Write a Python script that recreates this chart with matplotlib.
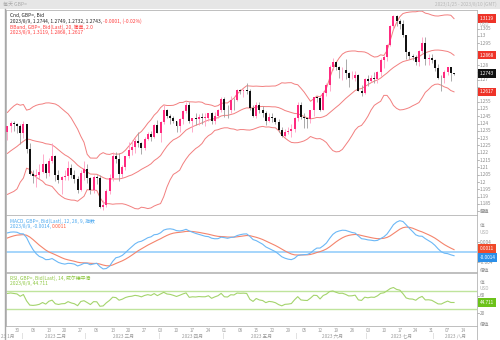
import numpy as np
import pandas as pd
import matplotlib
matplotlib.use("Agg")
import matplotlib.pyplot as plt
import matplotlib.transforms as mtransforms
from matplotlib.patches import Rectangle
from matplotlib.lines import Line2D

plt.rcParams['font.family'] = ['Noto Sans CJK SC', 'DejaVu Sans']

# GBP= daily bid candles, 2023-01-25 .. 2023-08-09
dates = pd.bdate_range("2023-01-25", "2023-08-09")

open_ = [1.2340, 1.2385, 1.2405, 1.2395, 1.2385, 1.2335, 1.2395, 1.2225, 1.2055, 1.2040,
         1.2050, 1.2070, 1.2120, 1.2060, 1.2145, 1.2180, 1.2045, 1.2015, 1.2035, 1.2040,
         1.2095, 1.2050, 1.2020, 1.1945, 1.2065, 1.2090, 1.2025, 1.1945, 1.2035, 1.2030,
         1.1830, 1.1840, 1.1940, 1.2030, 1.2175, 1.2160, 1.2055, 1.2100, 1.2175, 1.2220,
         1.2240, 1.2280, 1.2265, 1.2235, 1.2295, 1.2330, 1.2310, 1.2390, 1.2335, 1.2410,
         1.2495, 1.2450, 1.2440, 1.2415, 1.2385, 1.2430, 1.2485, 1.2530, 1.2415, 1.2435,
         1.2430, 1.2445, 1.2440, 1.2440, 1.2470, 1.2415, 1.2455, 1.2490, 1.2570, 1.2495,
         1.2490, 1.2565, 1.2560, 1.2630, 1.2625, 1.2630, 1.2625, 1.2505, 1.2450, 1.2530,
         1.2490, 1.2475, 1.2415, 1.2445, 1.2435, 1.2410, 1.2355, 1.2315, 1.2345, 1.2350,
         1.2360, 1.2440, 1.2525, 1.2445, 1.2435, 1.2430, 1.2490, 1.2580, 1.2575, 1.2495,
         1.2610, 1.2665, 1.2790, 1.2820, 1.2790, 1.2765, 1.2770, 1.2745, 1.2710, 1.2715,
         1.2735, 1.2625, 1.2610, 1.2705, 1.2690, 1.2710, 1.2705, 1.2750, 1.2835, 1.2855,
         1.2940, 1.3065, 1.3140, 1.3100, 1.3085, 1.3005, 1.2890, 1.2860, 1.2855, 1.2820,
         1.2900, 1.2950, 1.2845, 1.2850, 1.2835, 1.2780, 1.2715, 1.2710, 1.2750, 1.2785,
         1.2744]
high = [1.2385, 1.2420, 1.2418, 1.2405, 1.2395, 1.2420, 1.2400, 1.2270, 1.2080, 1.2090,
        1.2125, 1.2190, 1.2130, 1.2165, 1.2270, 1.2185, 1.2085, 1.2040, 1.2080, 1.2145,
        1.2125, 1.2080, 1.2040, 1.2080, 1.2145, 1.2120, 1.2035, 1.2045, 1.2045, 1.2045,
        1.1875, 1.1950, 1.2055, 1.2205, 1.2205, 1.2200, 1.2115, 1.2180, 1.2275, 1.2290,
        1.2300, 1.2345, 1.2275, 1.2310, 1.2345, 1.2350, 1.2400, 1.2425, 1.2420, 1.2525,
        1.2500, 1.2465, 1.2450, 1.2420, 1.2440, 1.2490, 1.2545, 1.2545, 1.2440, 1.2475,
        1.2465, 1.2475, 1.2475, 1.2475, 1.2480, 1.2480, 1.2500, 1.2585, 1.2580, 1.2525,
        1.2590, 1.2575, 1.2635, 1.2640, 1.2635, 1.2680, 1.2640, 1.2525, 1.2545, 1.2545,
        1.2520, 1.2485, 1.2470, 1.2470, 1.2445, 1.2430, 1.2375, 1.2365, 1.2380, 1.2395,
        1.2445, 1.2545, 1.2545, 1.2470, 1.2445, 1.2495, 1.2585, 1.2590, 1.2580, 1.2625,
        1.2680, 1.2800, 1.2850, 1.2825, 1.2795, 1.2790, 1.2840, 1.2750, 1.2760, 1.2760,
        1.2740, 1.2665, 1.2715, 1.2735, 1.2730, 1.2750, 1.2760, 1.2850, 1.2870, 1.2945,
        1.3075, 1.3145, 1.3145, 1.3115, 1.3110, 1.3010, 1.2900, 1.2880, 1.2870, 1.2905,
        1.2995, 1.2995, 1.2880, 1.2875, 1.2840, 1.2805, 1.2735, 1.2770, 1.2790, 1.2790,
        1.2749]
low = [1.2290, 1.2340, 1.2350, 1.2335, 1.2260, 1.2300, 1.2200, 1.2045, 1.1990, 1.1965,
       1.2020, 1.2060, 1.2030, 1.2040, 1.2130, 1.2010, 1.1990, 1.1915, 1.2015, 1.2015,
       1.2025, 1.1990, 1.1925, 1.1940, 1.2015, 1.1990, 1.1920, 1.1925, 1.1985, 1.1820,
       1.1805, 1.1830, 1.1915, 1.2010, 1.2130, 1.2010, 1.2030, 1.2080, 1.2165, 1.2185,
       1.2200, 1.2240, 1.2190, 1.2220, 1.2285, 1.2280, 1.2300, 1.2335, 1.2275, 1.2395,
       1.2435, 1.2400, 1.2405, 1.2345, 1.2345, 1.2400, 1.2475, 1.2405, 1.2345, 1.2390,
       1.2390, 1.2400, 1.2385, 1.2420, 1.2395, 1.2400, 1.2435, 1.2480, 1.2445, 1.2440,
       1.2470, 1.2490, 1.2555, 1.2600, 1.2585, 1.2600, 1.2495, 1.2445, 1.2440, 1.2470,
       1.2445, 1.2390, 1.2410, 1.2410, 1.2395, 1.2345, 1.2310, 1.2310, 1.2330, 1.2310,
       1.2345, 1.2420, 1.2430, 1.2370, 1.2370, 1.2405, 1.2450, 1.2545, 1.2485, 1.2490,
       1.2590, 1.2620, 1.2765, 1.2765, 1.2710, 1.2700, 1.2705, 1.2650, 1.2705, 1.2690,
       1.2620, 1.2590, 1.2605, 1.2660, 1.2685, 1.2675, 1.2680, 1.2725, 1.2780, 1.2830,
       1.2930, 1.3045, 1.3065, 1.3050, 1.2990, 1.2845, 1.2845, 1.2835, 1.2800, 1.2795,
       1.2885, 1.2800, 1.2800, 1.2815, 1.2760, 1.2705, 1.2620, 1.2680, 1.2735, 1.2690,
       1.2732]
close = [1.2385, 1.2405, 1.2395, 1.2385, 1.2335, 1.2395, 1.2225, 1.2055, 1.2040, 1.2050,
         1.2070, 1.2120, 1.2060, 1.2145, 1.2180, 1.2045, 1.2015, 1.2035, 1.2040, 1.2095,
         1.2050, 1.2020, 1.1945, 1.2065, 1.2090, 1.2025, 1.1945, 1.2035, 1.2030, 1.1830,
         1.1840, 1.1940, 1.2030, 1.2175, 1.2160, 1.2055, 1.2100, 1.2175, 1.2220, 1.2240,
         1.2280, 1.2265, 1.2235, 1.2295, 1.2330, 1.2310, 1.2390, 1.2335, 1.2410, 1.2495,
         1.2450, 1.2440, 1.2415, 1.2385, 1.2430, 1.2485, 1.2530, 1.2415, 1.2435, 1.2430,
         1.2445, 1.2440, 1.2440, 1.2470, 1.2415, 1.2455, 1.2490, 1.2570, 1.2495, 1.2490,
         1.2565, 1.2560, 1.2630, 1.2625, 1.2630, 1.2625, 1.2505, 1.2450, 1.2530, 1.2490,
         1.2475, 1.2415, 1.2445, 1.2435, 1.2410, 1.2355, 1.2315, 1.2345, 1.2350, 1.2360,
         1.2440, 1.2525, 1.2445, 1.2435, 1.2430, 1.2490, 1.2580, 1.2575, 1.2495, 1.2610,
         1.2665, 1.2790, 1.2820, 1.2790, 1.2765, 1.2770, 1.2745, 1.2710, 1.2715, 1.2735,
         1.2625, 1.2610, 1.2705, 1.2690, 1.2710, 1.2705, 1.2750, 1.2835, 1.2855, 1.2940,
         1.3065, 1.3140, 1.3100, 1.3085, 1.3005, 1.2890, 1.2860, 1.2855, 1.2820, 1.2900,
         1.2950, 1.2845, 1.2850, 1.2835, 1.2780, 1.2715, 1.2710, 1.2750, 1.2785, 1.2744,
         1.2743]

# closes before the visible range, used to seed the indicators
prior_close = [1.1825, 1.1885, 1.2025, 1.2110, 1.2090, 1.1960, 1.1960, 1.2055, 1.2265, 1.2290,
               1.2180, 1.2150, 1.2200, 1.2245, 1.2265, 1.2280, 1.2365, 1.2420, 1.2185, 1.2140,
               1.2160, 1.2160, 1.2115, 1.2040, 1.2050, 1.2045, 1.2025, 1.2025, 1.2060, 1.2095,
               1.2075, 1.1965, 1.2055, 1.1935, 1.2090, 1.2190, 1.2155, 1.2150, 1.2215, 1.2225,
               1.2200, 1.2285, 1.2345, 1.2390, 1.2395, 1.2370, 1.2335]

month_names = ["23 1月", "2023 二月", "2023 三月", "2023 四月", "2023 五月",
               "2023 六月", "2023 七月", "2023 八月"]

n = len(close)
xs = np.arange(n)
o, h, l, c = map(np.array, (open_, high, low, close))

# indicators
allc = pd.Series(prior_close + close)
mid = allc.rolling(20).mean()
sd = allc.rolling(20).std(ddof=0)
upper = (mid + 2 * sd).values[-n:]
lower = (mid - 2 * sd).values[-n:]
mid = mid.values[-n:]
ema12 = allc.ewm(span=12, adjust=False).mean()
ema26 = allc.ewm(span=26, adjust=False).mean()
macd = ema12 - ema26
signal = macd.ewm(span=9, adjust=False).mean()
macd = macd.values[-n:]
signal = signal.values[-n:]
d = allc.diff()
gain = d.clip(lower=0).ewm(alpha=1 / 14, adjust=False).mean()
loss = (-d.clip(upper=0)).ewm(alpha=1 / 14, adjust=False).mean()
rsi = (100 - 100 / (1 + gain / loss)).values[-n:]

W, H = 500, 340
fig = plt.figure(figsize=(5, 3.4), dpi=100)


def box(left, top, right, bottom):
    return [left / W, 1 - bottom / H, (right - left) / W, (bottom - top) / H]


ax = fig.add_axes(box(6, 10, 477, 215))
ax_m = fig.add_axes(box(6, 215, 477, 272), sharex=ax)
ax_r = fig.add_axes(box(6, 273, 477, 326), sharex=ax)

for a in (ax, ax_m, ax_r):
    a.set_xticks([])
    a.set_yticks([])
    for s in a.spines.values():
        s.set_color("#b4b4b4")
        s.set_linewidth(0.6)

ax.set_xlim(-0.45, 147.2)
ax.set_ylim(1.1774, 1.3178)
ax_m.set_ylim(-0.00788, 0.01492)
ax_r.set_ylim(-8.4, 111.4)

# window frame
fig.patches.append(Rectangle((0, 1 - 9 / H), 1, 9 / H, transform=fig.transFigure,
                             facecolor="#e6e6e6", edgecolor="none", zorder=0))
fig.lines.append(Line2D([4.5 / W, 4.5 / W], [0, 1 - 9 / H], transform=fig.transFigure,
                        color="#a8a8a8", lw=1.0))
fig.lines.append(Line2D([477 / W, 477 / W], [0, 14 / H], transform=fig.transFigure,
                        color="#b4b4b4", lw=0.6))
fig.text(3 / W, 1 - 4.5 / H, "每天 GBP=", fontsize=3.6, color="#a8a8a8", va="center")
fig.text(497 / W, 1 - 4.5 / H, "2023/1/25 - 2023/8/10 (GMT)", fontsize=3.4,
         color="#b8b8b8", va="center", ha="right")

# candles
up = c >= o
ax.vlines(xs[up], l[up], h[up], color="#ff9cc2", lw=0.6, zorder=2)
ax.vlines(xs[~up], l[~up], h[~up], color="#9c9c9c", lw=0.6, zorder=2)
body = np.maximum(np.abs(c - o), 0.00025)
ax.bar(xs[up], body[up], bottom=o[up], width=0.62, color="#ff2a7f", lw=0, zorder=3)
ax.bar(xs[~up], body[~up], bottom=c[~up], width=0.62, color="#111111", lw=0, zorder=3)

band_col = "#f27f7f"
for band in (upper, mid, lower):
    ax.plot(xs, band, color=band_col, lw=0.7, zorder=1)

# MACD
ax_m.axhline(0, color="#9ed2fb", lw=1.3)
ax_m.plot(xs, signal, color="#f4846c", lw=0.8)
ax_m.plot(xs, macd, color="#6cb8f6", lw=0.8)

# RSI
ax_r.axhline(70, color="#bfe49c", lw=1.0)
ax_r.axhline(30, color="#bfe49c", lw=1.0)
ax_r.plot(xs, rsi, color="#a4d46c", lw=0.8)

fs = 3.5
# legends
ax.text(0.008, 0.985, "Cnd, GBP=, Bid", transform=ax.transAxes, fontsize=fs,
        color="#222222", va="top")
t = ax.text(0.008, 0.958, "2023/8/9, 1.2744, 1.2749, 1.2732, 1.2743, ",
            transform=ax.transAxes, fontsize=fs, color="#222222", va="top")
ax.annotate("-0.0001, (-0.02%)", xycoords=t, xy=(1, 0), va="bottom",
            fontsize=fs, color="#ff3b3b")
ax.text(0.008, 0.930, "BBand, GBP=, Bid(Last), 20, 简单, 2.0", transform=ax.transAxes,
        fontsize=fs, color="#ff3b3b", va="top")
ax.text(0.008, 0.902, "2023/8/9, %.4f, %.4f, %.4f" % (upper[-1], mid[-1], lower[-1]),
        transform=ax.transAxes, fontsize=fs, color="#ff3b3b", va="top")

ax_m.text(0.008, 0.94, "MACD, GBP=, Bid(Last), 12, 26, 9, 指数", transform=ax_m.transAxes,
          fontsize=fs, color="#4aa8f0", va="top")
t = ax_m.text(0.008, 0.84, "2023/8/9, %.4f, " % macd[-1], transform=ax_m.transAxes,
              fontsize=fs, color="#4aa8f0", va="top")
ax_m.annotate("%.4f" % signal[-1], xycoords=t, xy=(1, 0), va="bottom",
              fontsize=fs, color="#ff5a3a")

ax_r.text(0.008, 0.95, "RSI, GBP=, Bid(Last), 14, 威尔德平滑", transform=ax_r.transAxes,
          fontsize=fs, color="#8cc63f", va="top")
ax_r.text(0.008, 0.85, "2023/8/9, %.3f" % rsi[-1], transform=ax_r.transAxes,
          fontsize=fs, color="#8cc63f", va="top")


# right-hand value scales
def right_label(a, val, txt, color="#8a8a8a", bg=None):
    tr = mtransforms.blended_transform_factory(a.transAxes, a.transData)
    kw = dict(fontsize=3.4, color=color, va="center", ha="left", transform=tr,
              clip_on=False)
    if bg is not None:
        kw["bbox"] = dict(boxstyle="square,pad=0.35", facecolor=bg, edgecolor="none")
        kw["color"] = "white"
    a.text(1.006, val, txt, **kw)


def right_tick(a, val):
    tr = mtransforms.blended_transform_factory(a.transAxes, a.transData)
    a.plot([1.0, 1.004], [val, val], transform=tr, color="#9a9a9a", lw=0.5,
           clip_on=False)


boxes = [upper[-1], mid[-1], lower[-1], c[-1]]
for v in np.arange(1.180, 1.3051, 0.005):
    right_tick(ax, v)
    if min(abs(v - b) for b in boxes) < 0.0035:
        continue
    right_label(ax, v, "%g" % round(v, 3))
right_label(ax, upper[-1], "%.4f" % upper[-1], bg="#ee3328")
right_label(ax, mid[-1], "%.4f" % mid[-1], bg="#ee3328")
right_label(ax, lower[-1], "%.4f" % lower[-1], bg="#ee3328")
right_label(ax, c[-1], "%.4f" % c[-1], bg="#111111")
right_label(ax, 1.3078, "USD", color="#b0b0b0")

for v in (0.004, -0.004):
    right_tick(ax_m, v)
    right_label(ax_m, v, "%g" % v)
right_label(ax_m, 0.0109, "值", color="#a0a0a0")
right_label(ax_m, 0.0081, "USD", color="#b0b0b0")
right_label(ax_m, signal[-1] + 0.0004, "%.4f" % signal[-1], bg="#f04a2a")
right_label(ax_m, macd[-1] - 0.0007, "%.4f" % macd[-1], bg="#2b8fe8")

for v in (60, 20):
    right_tick(ax_r, v)
    right_label(ax_r, v, "%d" % v)
right_label(ax_r, 91, "值", color="#a0a0a0")
right_label(ax_r, 76, "USD", color="#b0b0b0")
right_label(ax_r, rsi[-1], "%.3f" % rsi[-1], bg="#6cc21a")

for a, v in ((ax, 1.1795), (ax_m, -0.0072), (ax_r, -5)):
    right_label(a, v, "價值", color="#9a9a9a")

# date axis
trx = mtransforms.blended_transform_factory(ax.transData, fig.transFigure)
mondays = [i for i, dt in enumerate(dates) if dt.weekday() == 0]
for i in mondays:
    fig.text(i, 1 - 330.5 / H, dates[i].strftime("%d"), transform=trx, fontsize=3.3,
             color="#9a9a9a", ha="center", va="center")
fig.text(138 + 5, 1 - 330.5 / H, "14", transform=trx, fontsize=3.3,
         color="#9a9a9a", ha="center", va="center")

months = dates.month.values
starts = [0] + [i for i in range(1, n) if months[i] != months[i - 1]]
ends = starts[1:] + [147.2]
for k, (s, e) in enumerate(zip(starts, ends)):
    if k > 0:
        fig.text(s - 0.5, 1 - 336 / H, "|", transform=trx, fontsize=3.5,
                 color="#b0b0b0", ha="center", va="center")
    if k == 0:
        fig.text(1 / W, 1 - 336 / H, month_names[k], fontsize=3.4,
                 color="#9a9a9a", ha="left", va="center")
    else:
        fig.text((s + e) / 2, 1 - 336 / H, month_names[k], transform=trx, fontsize=3.4,
                 color="#9a9a9a", ha="center", va="center")

fig.savefig("out.png", dpi=100)
